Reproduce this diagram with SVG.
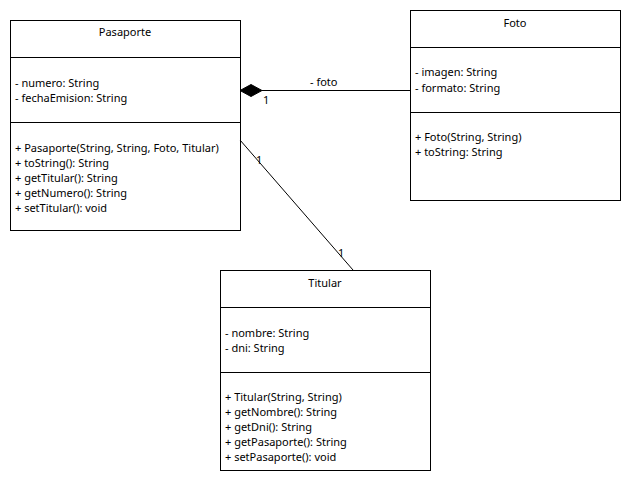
<svg xmlns="http://www.w3.org/2000/svg" width="630" height="480" viewBox="0 0 630 480">
<style>
rect.box{fill:#fff;stroke:#000;stroke-width:1}
line.div{stroke:#000;stroke-width:1}
text{font-family:"Noto Sans","DejaVu Sans",sans-serif;font-size:11px;fill:#000}
.t{text-anchor:middle}
.conn line{stroke:#000;stroke-width:1}
</style>
<rect width="630" height="480" fill="#fff"/>
<g id="pasaporte">
<rect class="box" x="10.5" y="20.5" width="230" height="210"/>
<line class="div" x1="10" y1="57.5" x2="240" y2="57.5"/>
<line class="div" x1="10" y1="122.5" x2="240" y2="122.5"/>
<text class="t" x="125" y="36">Pasaporte</text>
<text x="15" y="87">- numero: String</text>
<text x="15" y="102">- fechaEmision: String</text>
<text x="15" y="152">+ Pasaporte(String, String, Foto, Titular)</text>
<text x="15" y="167">+ toString(): String</text>
<text x="15" y="182">+ getTitular(): String</text>
<text x="15" y="197">+ getNumero(): String</text>
<text x="15" y="212">+ setTitular(): void</text>
</g>
<g id="foto">
<rect class="box" x="410.5" y="10.5" width="210" height="190"/>
<line class="div" x1="410" y1="47.5" x2="620" y2="47.5"/>
<line class="div" x1="410" y1="112.5" x2="620" y2="112.5"/>
<text class="t" x="515" y="27">Foto</text>
<text x="415" y="76">- imagen: String</text>
<text x="415" y="92">- formato: String</text>
<text x="415" y="141">+ Foto(String, String)</text>
<text x="415" y="156">+ toString: String</text>
</g>
<g id="titular">
<rect class="box" x="220.5" y="270.5" width="210" height="200"/>
<line class="div" x1="220" y1="307.5" x2="430" y2="307.5"/>
<line class="div" x1="220" y1="372.5" x2="430" y2="372.5"/>
<text class="t" x="325" y="287">Titular</text>
<text x="225" y="337">- nombre: String</text>
<text x="225" y="352">- dni: String</text>
<text x="225" y="401">+ Titular(String, String)</text>
<text x="225" y="416">+ getNombre(): String</text>
<text x="225" y="431">+ getDni(): String</text>
<text x="225" y="446">+ getPasaporte(): String</text>
<text x="225" y="461">+ setPasaporte(): void</text>
</g>
<g id="connectors" class="conn">
<line x1="262" y1="90.5" x2="410" y2="90.5"/>
<polygon points="240,90.5 251,84.5 262,90.5 251,96.5" fill="#000" stroke="#000"/>
<text x="310" y="86">- foto</text>
<text x="263" y="104">1</text>
<line x1="240" y1="140" x2="353" y2="270"/>
<text x="256" y="164">1</text>
<text x="338" y="257">1</text>
</g>
</svg>
